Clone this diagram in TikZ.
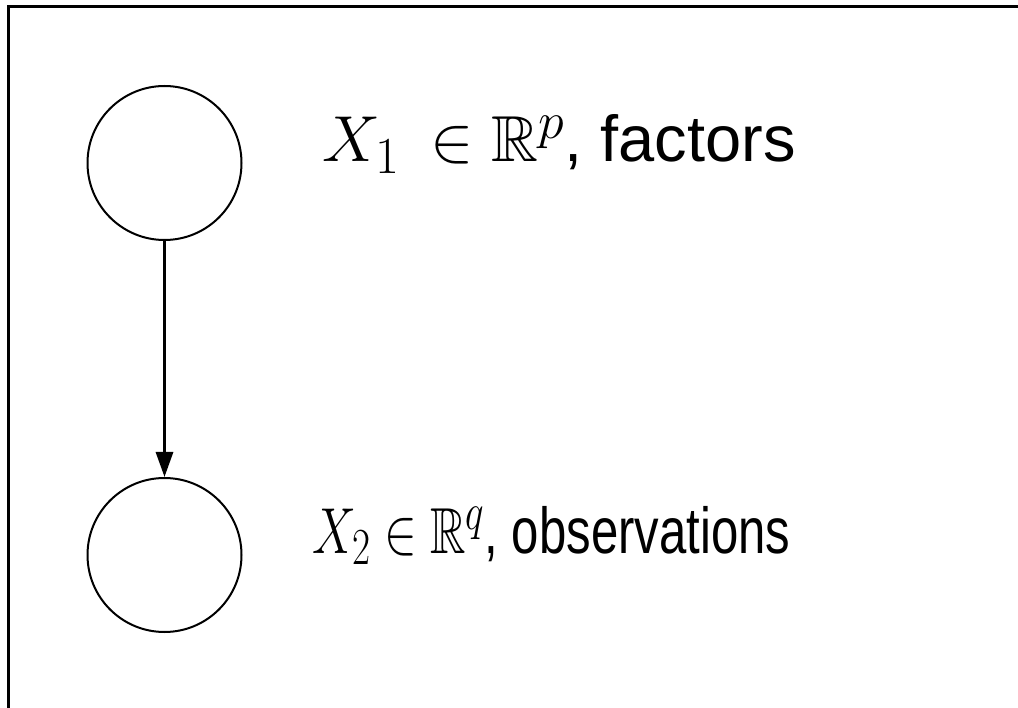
\RequirePackage{fix-cm}
\documentclass[tikz,border=0pt]{standalone}
\usepackage{graphicx}
\usepackage{amssymb}
\usepackage[no-math]{fontspec}
\setmainfont{Liberation Sans}
\usetikzlibrary{arrows.meta}
\DeclareMathSizes{65}{65}{52}{42}

\tikzset{
  var/.style={circle, draw, line width=2pt, minimum size=154pt, inner sep=0pt},
  lbl/.style={anchor=base west, inner sep=0pt, font=\fontsize{65}{72}\selectfont},
  edge/.style={line width=3pt, -{Triangle[length=25pt, width=17pt]}},
  frame/.style={line width=3pt}
}

\begin{document}
\begin{tikzpicture}[x=1pt, y=-1pt]
  \useasboundingbox (0,0) rectangle (1018,708);
  \begin{scope}
    \clip (0,0) rectangle (1018,708);
    \draw[frame] (8.5,6.5) rectangle (1040,730);
  \end{scope}

  % latent factors and observed variables
  \node[var] (x1) at (164.5,163) {};
  \node[var] (x2) at (164.5,555) {};

  \draw[edge] (x1) -- (x2);

  \node[lbl] (l1) at (322,162) {$X_1 \mkern3.5mu\in \mathbb{R}^p$, factors};
  \node[lbl] (l2) at (312,553)
    {\scalebox{0.755}[1]{$X_2 \in \mathbb{R}^q$, observations}};
\end{tikzpicture}
\end{document}
